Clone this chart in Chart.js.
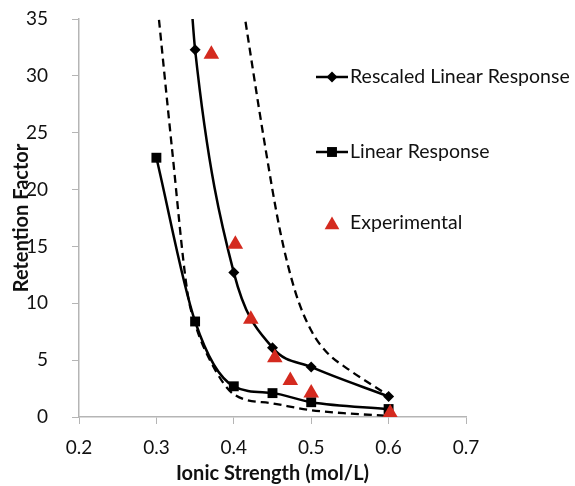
<!DOCTYPE html>
<html>
<head>
<meta charset="utf-8">
<script src="https://cdn.jsdelivr.net/npm/chart.js@4.4.1/dist/chart.umd.min.js"></script>
<style>
  html, body { margin: 0; padding: 0; background: #fff; }
  #wrap { width: 575px; height: 486px; }
</style>
</head>
<body>
<div id="wrap"><canvas id="chart" width="575" height="486"></canvas></div>
<script>
// values
const rescaledX = [0.344, 0.35, 0.40, 0.45, 0.50, 0.60];
const rescaledY = [37.5, 32.3, 12.7, 6.1, 4.4, 1.8];

const linearX = [0.30, 0.35, 0.40, 0.45, 0.50, 0.60];
const linearY = [22.8, 8.4, 2.7, 2.1, 1.3, 0.7];

const expX = [0.371, 0.402, 0.422, 0.453, 0.473, 0.500, 0.602];
const expY = [31.9, 15.2, 8.6, 5.2, 3.2, 2.1, 0.35];

const lowerX = [0.30, 0.32, 0.34, 0.35, 0.37, 0.40, 0.45, 0.50, 0.55, 0.60];
const lowerY = [37.2, 23.7, 11.0, 8.2, 4.9, 2.0, 1.2, 0.6, 0.3, 0.1];

const upperX = [0.41, 0.44, 0.46, 0.48, 0.50, 0.52, 0.55, 0.60];
const upperY = [37.0, 24.0, 16.3, 10.9, 7.6, 5.7, 4.1, 1.9];

const xTicks = [0.2, 0.3, 0.4, 0.5, 0.6, 0.7];
const yTicks = [0, 5, 10, 15, 20, 25, 30, 35];

const toPoints = (xs, ys) => xs.map((x, i) => ({ x: x, y: ys[i] }));

const FONT = 'Lato, "Noto Sans", sans-serif';
const RED = '#d42a1f';
const AXIS = '#b5b5b5';

// legend drawn inside the plot area, to the right of the curves
const legendItems = [
  { label: 'Rescaled Linear Response', pointStyle: 'rectRot', radius: 5.5, color: '#000', line: true, y: 77 },
  { label: 'Linear Response', pointStyle: 'rect', radius: 7, color: '#000', line: true, y: 152 },
  { label: 'Experimental', pointStyle: 'triangle', radius: 8.5, color: RED, line: false, y: 223 },
];

const insideLegend = {
  id: 'insideLegend',
  afterDraw(chart) {
    const ctx = chart.ctx;
    ctx.save();
    legendItems.forEach((item) => {
      const cx = 332;
      if (item.line) {
        ctx.strokeStyle = '#000';
        ctx.lineWidth = 2.5;
        ctx.beginPath();
        ctx.moveTo(316, item.y);
        ctx.lineTo(348, item.y);
        ctx.stroke();
      }
      ctx.fillStyle = item.color;
      ctx.strokeStyle = item.color;
      Chart.helpers.drawPoint(ctx, {
        pointStyle: item.pointStyle,
        radius: item.radius,
        rotation: 0,
        borderWidth: 0,
      }, cx, item.pointStyle === 'triangle' ? item.y + 2 : item.y);
      ctx.fillStyle = '#111';
      ctx.font = '19.5px ' + FONT;
      ctx.textAlign = 'left';
      ctx.textBaseline = 'middle';
      ctx.fillText(item.label, 350, item.y);
    });
    ctx.restore();
  },
};

const ctx = document.getElementById('chart').getContext('2d');
new Chart(ctx, {
  type: 'scatter',
  data: {
    datasets: [
      {
        label: 'Experimental',
        data: toPoints(expX, expY),
        showLine: false,
        pointStyle: 'triangle',
        pointRadius: 9,
        backgroundColor: RED,
        borderColor: RED,
        borderWidth: 0,
      },
      {
        label: 'Rescaled Linear Response',
        data: toPoints(rescaledX, rescaledY),
        showLine: true,
        cubicInterpolationMode: 'monotone',
        borderColor: '#000',
        backgroundColor: '#000',
        borderWidth: 2.5,
        pointStyle: 'rectRot',
        pointRadius: rescaledX.map((x, i) => (i === 0 ? 0 : 5.5)),
        pointBorderWidth: 0,
      },
      {
        label: 'Linear Response',
        data: toPoints(linearX, linearY),
        showLine: true,
        cubicInterpolationMode: 'monotone',
        borderColor: '#000',
        backgroundColor: '#000',
        borderWidth: 2.5,
        pointStyle: 'rect',
        pointRadius: 7,
        pointBorderWidth: 0,
      },
      {
        label: 'Lower bound',
        data: toPoints(lowerX, lowerY),
        showLine: true,
        cubicInterpolationMode: 'monotone',
        borderColor: '#000',
        borderWidth: 2.3,
        borderDash: [8, 5],
        pointRadius: 0,
      },
      {
        label: 'Upper bound',
        data: toPoints(upperX, upperY),
        showLine: true,
        cubicInterpolationMode: 'monotone',
        borderColor: '#000',
        borderWidth: 2.3,
        borderDash: [8, 5],
        pointRadius: 0,
      },
    ],
  },
  options: {
    responsive: false,
    animation: false,
    layout: { padding: { top: 0, right: 109, left: 0, bottom: 0 } },
    plugins: {
      legend: { display: false },
      tooltip: { enabled: false },
    },
    scales: {
      x: {
        type: 'linear',
        min: 0.2,
        max: 0.7,
        afterFit: (scale) => { scale.height = 69; },
        afterBuildTicks: (scale) => { scale.ticks = xTicks.map((v) => ({ value: v })); },
        grid: { drawOnChartArea: false, color: AXIS, tickLength: 7, tickColor: AXIS },
        border: { color: AXIS, width: 1.5 },
        ticks: {
          color: '#111',
          padding: 12,
          font: { family: FONT, size: 19 },
          callback: (v) => v.toFixed(1),
        },
        title: {
          display: true,
          text: 'Ionic Strength (mol/L)',
          color: '#111',
          font: { family: FONT, size: 20, weight: 'bold' },
          padding: { top: 0, bottom: 0 },
        },
      },
      y: {
        type: 'linear',
        min: 0,
        max: 35,
        afterFit: (scale) => {
          scale.width = 79;
          // plot top sits 19px below the canvas edge
          scale.paddingTop = 19;
          scale.paddingBottom = 11;
        },
        afterBuildTicks: (scale) => { scale.ticks = yTicks.map((v) => ({ value: v })); },
        grid: { drawOnChartArea: false, color: AXIS, tickLength: 7, tickColor: AXIS },
        border: { color: AXIS, width: 1.5 },
        ticks: {
          color: '#111',
          padding: 24,
          font: { family: FONT, size: 19 },
        },
        title: {
          display: true,
          text: 'Retention Factor',
          color: '#111',
          font: { family: FONT, size: 20, weight: 'bold' },
          padding: { top: 10, bottom: 0 },
        },
      },
    },
  },
  plugins: [insideLegend],
});
</script>
</body>
</html>
